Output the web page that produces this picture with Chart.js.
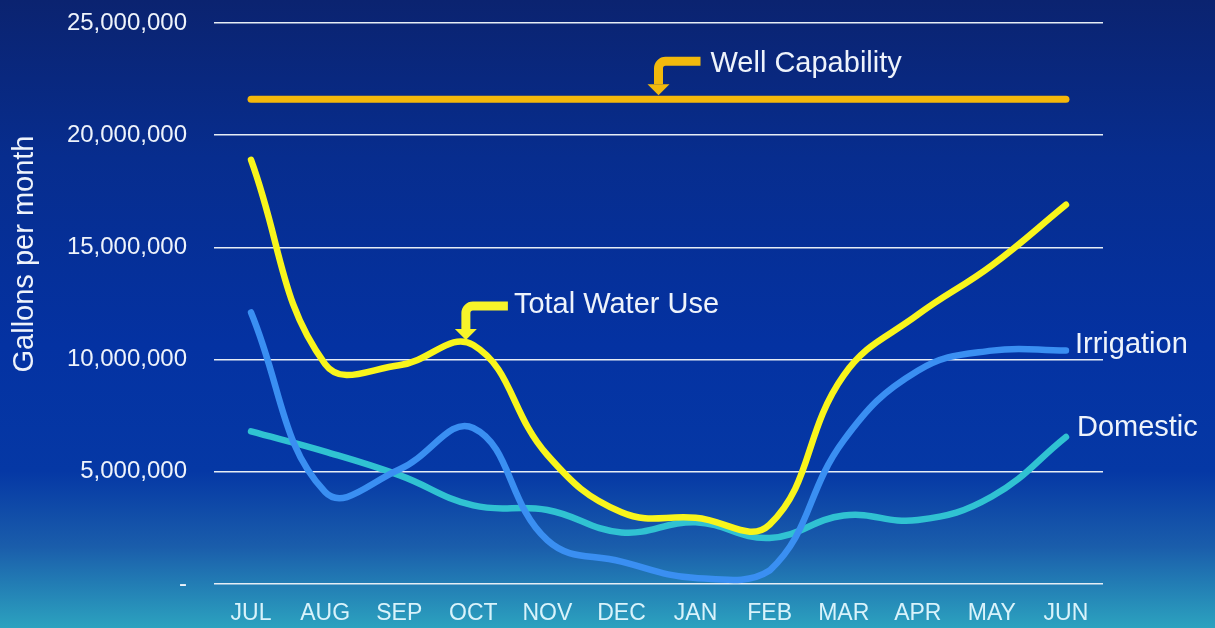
<!DOCTYPE html>
<html>
<head>
<meta charset="utf-8">
<script src="https://cdn.jsdelivr.net/npm/chart.js@4/dist/chart.umd.min.js"></script>
<style>
  html, body { margin: 0; padding: 0; }
  body {
    width: 1215px;
    height: 628px;
    overflow: hidden;
    background: linear-gradient(to bottom, #0b2370 0%, #072d8e 25%, #0432a2 55%, #0538a5 75%, #1a5dab 87%, #2ca2bf 100%);
  }
  canvas { display: block; }
</style>
</head>
<body>
<canvas id="waterChart" width="1215" height="628"></canvas>
<script>
const months = ["JUL", "AUG", "SEP", "OCT", "NOV", "DEC", "JAN", "FEB", "MAR", "APR", "MAY", "JUN"];
const totalWaterUse = [18900000, 9800000, 9750000, 10650000, 5750000, 3200000, 2950000, 2650000, 9300000, 12000000, 14200000, 16900000];
const irrigation = [12100000, 4100000, 5100000, 6950000, 1950000, 1000000, 270000, 600000, 6400000, 9500000, 10400000, 10400000];
const domestic = [6800000, 5900000, 4850000, 3500000, 3300000, 2300000, 2750000, 2050000, 3050000, 2850000, 3900000, 6550000];
const wellCapability = [21600000, 21600000, 21600000, 21600000, 21600000, 21600000, 21600000, 21600000, 21600000, 21600000, 21600000, 21600000];
const yTicks = [0, 5000000, 10000000, 15000000, 20000000, 25000000];

const FONT = "'Liberation Sans', Arial, sans-serif";

// bent "callout" arrow: bar comes in from the right, turns down, ends in a head
function bentArrow(ctx, tipX, tipY, barY, barEndX, color) {
  ctx.save();
  ctx.strokeStyle = color;
  ctx.fillStyle = color;
  ctx.lineWidth = 9;
  ctx.lineCap = "butt";
  const headStart = tipY - 11;
  const r = 7;
  ctx.beginPath();
  ctx.moveTo(barEndX, barY);
  ctx.lineTo(tipX + r, barY);
  ctx.arcTo(tipX, barY, tipX, barY + r, r);
  ctx.lineTo(tipX, headStart);
  ctx.stroke();
  ctx.beginPath();
  ctx.moveTo(tipX - 11, headStart);
  ctx.lineTo(tipX + 11, headStart);
  ctx.lineTo(tipX, tipY);
  ctx.closePath();
  ctx.fill();
  ctx.restore();
}

const annotations = {
  id: "annotations",
  afterDatasetsDraw(chart) {
    const ctx = chart.ctx;
    const x = chart.scales.x;
    const y = chart.scales.y;
    const step = x.getPixelForTick(1) - x.getPixelForTick(0);
    const at = (i) => x.getPixelForTick(0) + i * step;

    // Well Capability callout
    const wellY = y.getPixelForValue(wellCapability[0]);
    const wx = at(5.5);
    bentArrow(ctx, wx, wellY - 4, wellY - 38, wx + 42, "#f2b90c");

    // Total Water Use callout
    const octY = y.getPixelForValue(totalWaterUse[3]);
    const tx = at(2.9);
    bentArrow(ctx, tx, octY - 5, octY - 39, tx + 42, "#f7f42a");

    ctx.save();
    ctx.fillStyle = "#eef3fb";
    ctx.font = "29px " + FONT;
    ctx.textBaseline = "middle";
    ctx.textAlign = "left";
    ctx.fillText("Well Capability", wx + 52, wellY - 35);
    ctx.fillText("Total Water Use", tx + 48, octY - 40);
    ctx.fillText("Irrigation", at(11) + 9, y.getPixelForValue(irrigation[11]) - 6);
    ctx.fillText("Domestic", at(11) + 11, y.getPixelForValue(domestic[11]) - 9);

    // y axis title
    ctx.translate(25, 254);
    ctx.rotate(-Math.PI / 2);
    ctx.textAlign = "center";
    ctx.fillText("Gallons per month", 0, 0);
    ctx.restore();
  }
};

const ctx = document.getElementById("waterChart").getContext("2d");
new Chart(ctx, {
  type: "line",
  data: {
    labels: months,
    datasets: [
      {
        label: "Well Capability",
        data: wellCapability,
        borderColor: "#f5b80a",
        borderWidth: 7,
        borderCapStyle: "round",
        pointRadius: 0,
        tension: 0
      },
      {
        label: "Total Water Use",
        data: totalWaterUse,
        borderColor: "#f8f51c",
        borderWidth: 6.5,
        borderCapStyle: "round",
        pointRadius: 0,
        tension: 0.42
      },
      {
        label: "Irrigation",
        data: irrigation,
        borderColor: "#3a8ff2",
        borderWidth: 6.5,
        borderCapStyle: "round",
        pointRadius: 0,
        tension: 0.42
      },
      {
        label: "Domestic",
        data: domestic,
        borderColor: "#30c2d2",
        borderWidth: 6.5,
        borderCapStyle: "round",
        pointRadius: 0,
        tension: 0.42
      }
    ]
  },
  options: {
    responsive: false,
    animation: false,
    layout: { padding: { top: 23, right: 112, left: 0, bottom: 0 } },
    plugins: {
      legend: { display: false },
      tooltip: { enabled: false }
    },
    scales: {
      x: {
        offset: true,
        grid: { display: false, drawTicks: false },
        border: { display: false },
        ticks: {
          color: "#d9f3fb",
          font: { family: FONT, size: 23 },
          padding: 16,
          maxRotation: 0
        },
        afterFit(scale) { scale.height = 44; }
      },
      y: {
        min: 0,
        max: 25000000,
        afterBuildTicks(scale) { scale.ticks = yTicks.map(v => ({ value: v })); },
        grid: { color: "#e6edf5", lineWidth: 1.5, drawTicks: true, tickLength: 27, tickColor: "rgba(0,0,0,0)" },
        border: { display: false },
        ticks: {
          color: "#eef3fb",
          font: { family: FONT, size: 24 },
          padding: 0,
          callback: (v) => v === 0 ? "-" : v.toLocaleString("en-US")
        },
        afterFit(scale) { scale.width = 214; }
      }
    }
  },
  plugins: [annotations]
});
</script>
</body>
</html>
